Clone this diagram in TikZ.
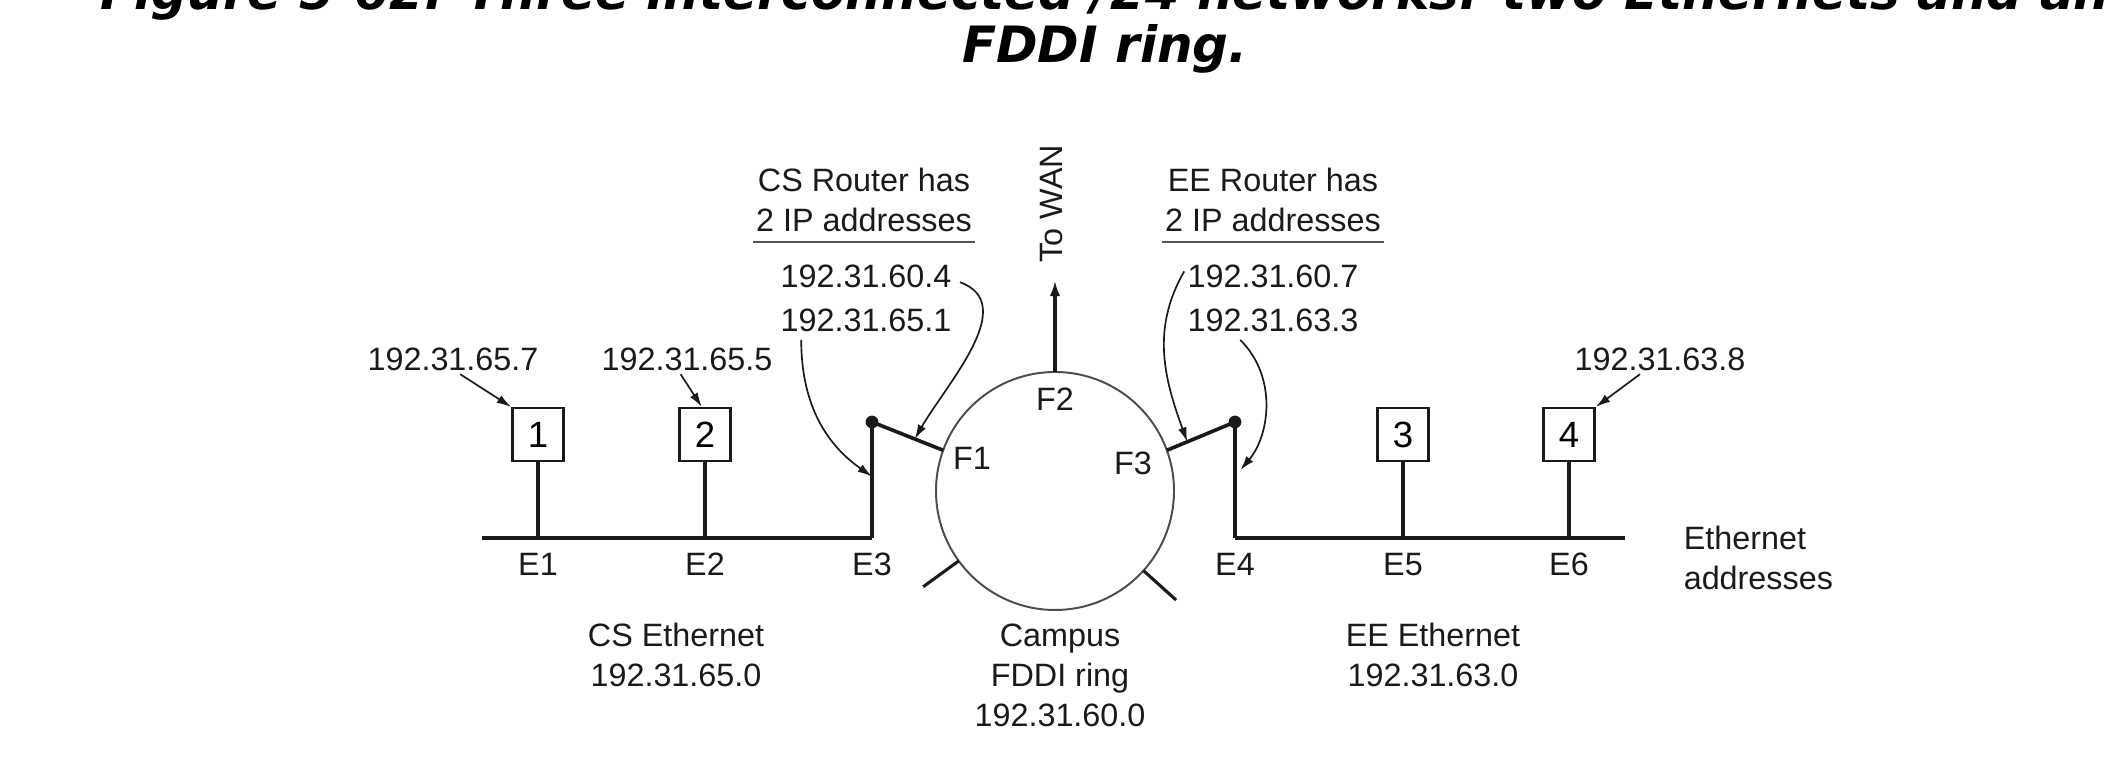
\documentclass[tikz,border=0pt]{standalone}
\usepackage{fontspec}
\setmainfont{Liberation Sans}
\newfontfamily\captionfont{DejaVu Sans}
\usetikzlibrary{arrows.meta,calc,positioning}
\definecolor{ink}{HTML}{1A1A1A}
\definecolor{ringgray}{HTML}{4D4D4D}
\definecolor{rulegray}{HTML}{555555}

\begin{document}
\begin{tikzpicture}[>=Latex,node distance=0.18cm,
    font=\fontsize{11.5}{14.2}\selectfont,
    lbl/.style={inner sep=1pt,align=center,text=ink},
    captext/.style={inner sep=0pt,font=\captionfont\bfseries\itshape\fontsize{17.8}{21}\selectfont},
    host/.style={draw=ink,line width=0.9pt,fill=white,minimum width=0.64cm,minimum height=0.66cm,inner sep=0pt,font=\fontsize{13}{15}\selectfont},
    bus/.style={draw=ink,line width=1.7pt},
    drop/.style={draw=ink,line width=1.3pt},
    ptr/.style={-{Latex[length=1.8mm,width=1.1mm]},draw=ink,line width=0.6pt},
    rule/.style={draw=rulegray,line width=0.8pt}]
  % page frame, the caption runs off the top edge
  \useasboundingbox (0,0) rectangle (26.4625,9.5625);
  \clip (0,0) rectangle (26.4625,9.5625);
  \node[captext,anchor=base] (cap1) at (13.8125,9.4375) {Figure 5-62. Three interconnected /24 networks: two Ethernets and an};
  \node[captext,anchor=base] (cap2) at (13.8125,8.775) {FDDI ring.};

  % bus taps and routers
  \coordinate (csend) at (6.025,2.8375);
  \coordinate (e1) at (6.725,2.8375);
  \coordinate (e2) at (8.8125,2.8375);
  \coordinate (e3) at (10.9,2.8375);
  \coordinate (e4) at (15.4375,2.8375);
  \coordinate (e5) at (17.5375,2.8375);
  \coordinate (e6) at (19.6125,2.8375);
  \coordinate (eeend) at (20.3125,2.8375);
  \coordinate (csr) at (10.9,4.2875);
  \coordinate (eer) at (15.4375,4.2875);

  \node[host] (h1) at (6.725,4.13) {1};
  \node[host] (h2) at (8.8125,4.13) {2};
  \node[host] (h3) at (17.5375,4.13) {3};
  \node[host] (h4) at (19.6125,4.13) {4};
  \node[circle,draw=ringgray,line width=0.7pt,minimum size=2.975cm,inner sep=0pt,outer sep=0pt] (ring) at (13.1875,3.425) {};

  \draw[bus] (csend) -- (e3);
  \draw[bus] (e4) -- (eeend);
  \draw[drop] (e3) -- coordinate[pos=0.53] (cshit) (csr);
  \draw[drop] (e4) -- coordinate[pos=0.53] (eehit) (eer);
  \foreach \h/\e in {h1/e1,h2/e2,h3/e5,h4/e6}
    \draw[drop] (\h) -- (\e);
  \draw[drop] (csr) -- coordinate[pos=0.6] (cslink) (ring.160);
  \draw[drop] (eer) -- coordinate[pos=0.7] (eelink) (ring.20);
  \fill[ink] (csr) circle (0.08);
  \fill[ink] (eer) circle (0.08);
  \draw[drop,line width=1.1pt] (ring.216) -- ++(216:0.55);
  \draw[drop,line width=1.1pt] (ring.318) -- ++(318:0.55);

  % ring
  \node[lbl] (f1) at (12.15,3.8375) {F1};
  \node[lbl] (f2) at (13.1875,4.575) {F2};
  \node[lbl] (f3) at (14.1625,3.775) {F3};
  \node[lbl,rotate=90,anchor=west] (wan) at (13.14,6.24) {To WAN};
  \draw[drop,-{Latex[length=2mm,width=1.3mm]},shorten >=0.18cm] (ring.north) -- (ring.north |- wan.west);

  % routers
  \node[lbl] (csrtr) at (10.8,7.0625) {CS Router has\\2 IP addresses};
  \node[lbl] (eertr) at (15.9125,7.0625) {EE Router has\\2 IP addresses};
  \draw[rule] (csrtr.west |- 0,6.5375) -- (csrtr.east |- 0,6.5375);
  \draw[rule] (eertr.west |- 0,6.5375) -- (eertr.east |- 0,6.5375);
  \node[lbl] (ip604) at (10.825,6.11) {192.31.60.4};
  \node[lbl,below=of ip604] (ip651) {192.31.65.1};
  \node[lbl] (ip607) at (15.9125,6.11) {192.31.60.7};
  \node[lbl,below=of ip607] (ip633) {192.31.63.3};
  \draw[ptr] ([shift={(0.065,-0.075)}]ip604.east) to[out=-20,in=60] (cslink);
  \draw[ptr] ([shift={(0.3,-0.06)}]ip651.south west) to[out=-90,in=145] (cshit);
  \draw[ptr] ([yshift=0.06cm]ip607.west) to[out=240,in=110] (eelink);
  \draw[ptr,shorten >=3pt] ([shift={(0.7,-0.06)}]ip633.south west) to[out=-45,in=50] (eehit);

  % hosts
  \node[lbl] (ip657) at (5.6625,5.07) {192.31.65.7};
  \node[lbl] (ip655) at (8.5875,5.07) {192.31.65.5};
  \node[lbl] (ip638) at (20.75,5.07) {192.31.63.8};
  \draw[ptr] ([xshift=0.09cm]ip657.south) -- (h1.north west);
  \draw[ptr] ([xshift=-0.08cm]ip655.south) -- ([xshift=-0.04cm]h2.north);
  \draw[ptr] ([xshift=-0.25cm]ip638.south) -- (h4.north east);

  \foreach \e/\t in {e1/E1,e2/E2,e3/E3,e4/E4,e5/E5,e6/E6}
    \node[lbl,below=0.15cm of \e] (l\e) {\t};

  \node[lbl] (cslan) at (8.45,1.375) {CS Ethernet\\192.31.65.0};
  \node[lbl] (fddi) at (13.25,1.125) {Campus\\FDDI ring\\192.31.60.0};
  \node[lbl] (eelan) at (17.9125,1.375) {EE Ethernet\\192.31.63.0};
  \node[lbl,align=left,anchor=west] (ethaddr) at (21.005,2.59) {Ethernet\\addresses};
\end{tikzpicture}
\end{document}
